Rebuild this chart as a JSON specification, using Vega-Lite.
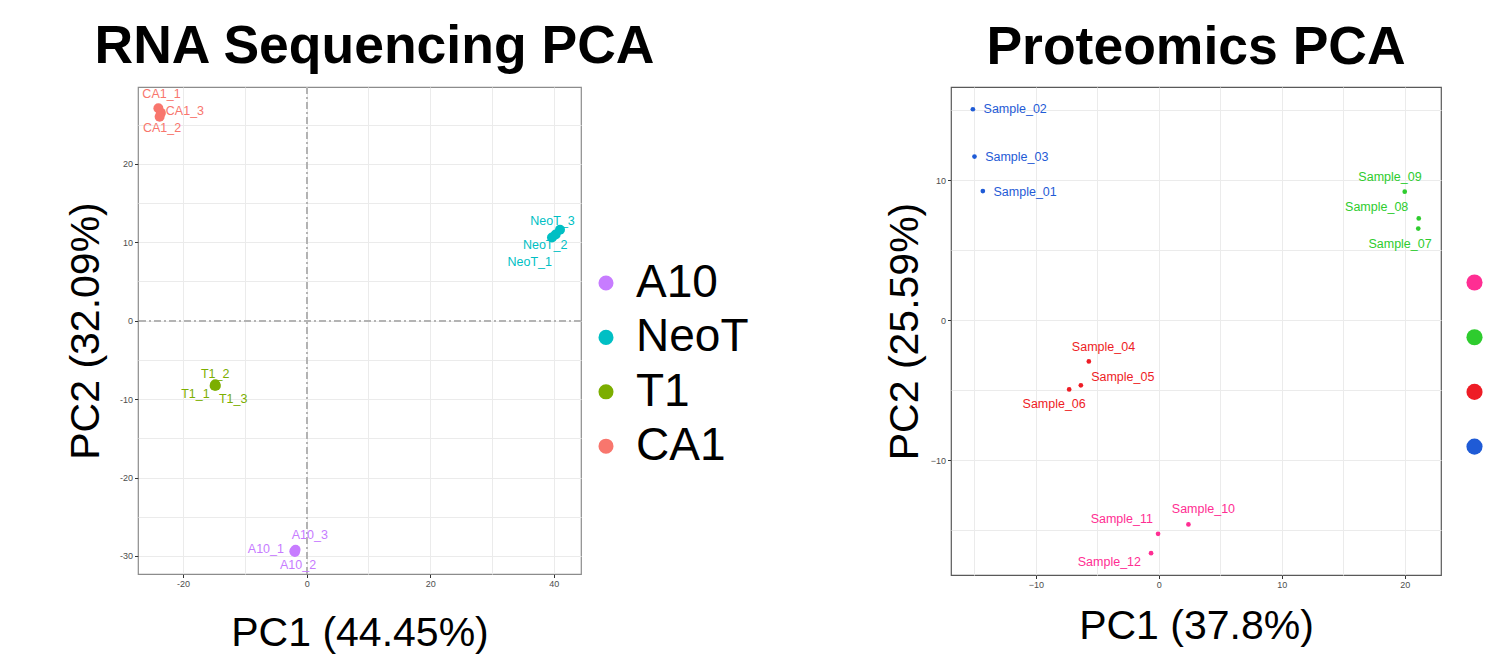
{
  "$schema": "https://vega.github.io/schema/vega-lite/v6.json",
  "padding": {"left": 64, "top": 19, "right": 0, "bottom": 0},
  "background": "white",
  "datasets": {
    "rna": [
      {"sample": "CA1_1", "group": "CA1", "pc1": -24.0, "pc2": 27.1, "lx": -23.5, "ly": 28.9},
      {"sample": "CA1_3", "group": "CA1", "pc1": -23.6, "pc2": 26.5, "lx": -19.7, "ly": 26.7},
      {"sample": "CA1_2", "group": "CA1", "pc1": -23.8, "pc2": 26.0, "lx": -23.4, "ly": 24.6},
      {"sample": "NeoT_1", "group": "NeoT", "pc1": 39.7, "pc2": 10.6, "lx": 36.1, "ly": 7.5},
      {"sample": "NeoT_2", "group": "NeoT", "pc1": 40.3, "pc2": 11.0, "lx": 38.6, "ly": 9.6},
      {"sample": "NeoT_3", "group": "NeoT", "pc1": 41.0, "pc2": 11.6, "lx": 39.8, "ly": 12.7},
      {"sample": "T1_1", "group": "T1", "pc1": -14.9, "pc2": -8.3, "lx": -18.0, "ly": -9.4},
      {"sample": "T1_2", "group": "T1", "pc1": -14.8, "pc2": -8.1, "lx": -14.8, "ly": -6.8},
      {"sample": "T1_3", "group": "T1", "pc1": -14.7, "pc2": -8.3, "lx": -11.9, "ly": -10.0},
      {"sample": "A10_1", "group": "A10", "pc1": -2.0, "pc2": -29.4, "lx": -6.6, "ly": -29.1},
      {"sample": "A10_2", "group": "A10", "pc1": -1.9, "pc2": -29.5, "lx": -1.4, "ly": -31.2},
      {"sample": "A10_3", "group": "A10", "pc1": -1.8, "pc2": -29.2, "lx": 0.5, "ly": -27.3}
    ],
    "prot": [
      {"sample": "Sample_01", "group": "Group 1", "pc1": -14.31, "pc2": 9.21, "lx": -10.87, "ly": 9.17},
      {"sample": "Sample_02", "group": "Group 1", "pc1": -15.12, "pc2": 15.05, "lx": -11.68, "ly": 15.05},
      {"sample": "Sample_03", "group": "Group 1", "pc1": -14.99, "pc2": 11.67, "lx": -11.55, "ly": 11.67},
      {"sample": "Sample_04", "group": "Group 2", "pc1": -5.69, "pc2": -2.95, "lx": -4.5, "ly": -1.9},
      {"sample": "Sample_05", "group": "Group 2", "pc1": -6.34, "pc2": -4.66, "lx": -2.93, "ly": -4.07},
      {"sample": "Sample_06", "group": "Group 2", "pc1": -7.29, "pc2": -4.95, "lx": -8.51, "ly": -6.02},
      {"sample": "Sample_07", "group": "Group 3", "pc1": 21.1, "pc2": 6.53, "lx": 19.62, "ly": 5.45},
      {"sample": "Sample_08", "group": "Group 3", "pc1": 21.14, "pc2": 7.26, "lx": 17.72, "ly": 8.1},
      {"sample": "Sample_09", "group": "Group 3", "pc1": 20.0, "pc2": 9.17, "lx": 18.8, "ly": 10.24},
      {"sample": "Sample_10", "group": "Group 4", "pc1": 2.41, "pc2": -14.59, "lx": 3.63, "ly": -13.52},
      {"sample": "Sample_11", "group": "Group 4", "pc1": -0.06, "pc2": -15.26, "lx": -3.01, "ly": -14.19},
      {"sample": "Sample_12", "group": "Group 4", "pc1": -0.63, "pc2": -16.64, "lx": -4.02, "ly": -17.29}
    ]
  },
  "config": {
    "font": "Liberation Sans",
    "axis": {
      "gridColor": "#EBEBEB",
      "domain": false,
      "tickColor": "#333333",
      "tickSize": 3.5,
      "labelFontSize": 9,
      "labelColor": "#4D4D4D",
      "labelPadding": 2,
      "titleFontSize": 41,
      "titleFontWeight": "normal",
      "titleColor": "black",
      "titleFont": "Liberation Sans"
    },
    "title": {"font": "Liberation Sans", "fontSize": 53.5, "fontWeight": "bold", "color": "black", "anchor": "middle", "frame": "group"}
  },
  "align": "none",
  "spacing": 133,
  "resolve": {"scale": {"color": "independent"}, "legend": {"color": "independent"}},
  "hconcat": [
    {
      "title": {"text": "RNA Sequencing PCA", "dx": 15, "offset": 12},
      "width": 443,
      "height": 487,
      "view": {"stroke": "#8C8C8C", "strokeWidth": 1.2},
      "data": {"name": "rna"},
      "encoding": {
        "x": {
          "field": "pc1", "type": "quantitative",
          "scale": {"domain": [-27.3, 44.4], "nice": false, "zero": false},
          "axis": {
            "title": "PC1 (44.45%)",
            "values": [-20, -10, 0, 10, 20, 30, 40],
            "labelExpr": "datum.value % 20 === 0 ? toString(datum.value) : ''",
            "tickOpacity": {"condition": {"test": "datum.value % 20 === 0", "value": 1}, "value": 0},
            "titlePadding": 25
          }
        },
        "y": {
          "field": "pc2", "type": "quantitative",
          "scale": {"domain": [-32.3, 29.8], "nice": false, "zero": false},
          "axis": {
            "title": "PC2 (32.09%)",
            "values": [-30, -25, -20, -15, -10, -5, 0, 5, 10, 15, 20, 25],
            "labelExpr": "datum.value % 10 === 0 ? toString(datum.value) : ''",
            "tickOpacity": {"condition": {"test": "datum.value % 10 === 0", "value": 1}, "value": 0},
            "titlePadding": 12
          }
        }
      },
      "layer": [
        {"mark": {"type": "rule", "color": "#B3B3B3", "strokeWidth": 1.2, "strokeDash": [7, 3, 2, 3]}, "encoding": {"x": {"datum": 0}, "y": null}},
        {"mark": {"type": "rule", "color": "#B3B3B3", "strokeWidth": 1.2, "strokeDash": [7, 3, 2, 3]}, "encoding": {"y": {"datum": 0}, "x": null}},
        {
          "mark": {"type": "point", "filled": true, "opacity": 1, "size": 100, "shape": "circle"},
          "encoding": {
            "color": {
              "field": "group", "type": "nominal",
              "scale": {"domain": ["A10", "NeoT", "T1", "CA1"], "range": ["#C77CFF", "#00BFC4", "#7CAE00", "#F8766D"]},
              "legend": {
                "title": null, "orient": "none", "legendX": 445, "legendY": 173,
                "symbolType": "circle", "symbolSize": 227, "symbolStrokeWidth": 0,
                "labelFontSize": 46, "labelColor": "black", "labelFont": "Liberation Sans",
                "labelOffset": 7, "rowPadding": 8.4
              }
            }
          }
        },
        {
          "mark": {"type": "text", "fontSize": 12.5, "align": "center", "baseline": "middle"},
          "encoding": {
            "x": {"field": "lx", "type": "quantitative"},
            "y": {"field": "ly", "type": "quantitative"},
            "text": {"field": "sample"},
            "color": {"field": "group", "type": "nominal", "legend": null}
          }
        }
      ]
    },
    {
      "title": {"text": "Proteomics PCA", "offset": 12},
      "width": 490,
      "height": 488,
      "view": {"stroke": "#595959", "strokeWidth": 1.2},
      "data": {"name": "prot"},
      "encoding": {
        "x": {
          "field": "pc1", "type": "quantitative",
          "scale": {"domain": [-16.9, 22.95], "nice": false, "zero": false},
          "axis": {
            "title": "PC1 (37.8%)",
            "values": [-15, -10, -5, 0, 5, 10, 15, 20],
            "labelExpr": "datum.value % 10 === 0 ? datum.label : ''",
            "tickOpacity": {"condition": {"test": "datum.value % 10 === 0", "value": 1}, "value": 0},
            "titlePadding": 17
          }
        },
        "y": {
          "field": "pc2", "type": "quantitative",
          "scale": {"domain": [-18.2, 16.64], "nice": false, "zero": false},
          "axis": {
            "title": "PC2 (25.59%)",
            "values": [-15, -10, -5, 0, 5, 10, 15],
            "labelExpr": "datum.value % 10 === 0 ? datum.label : ''",
            "tickOpacity": {"condition": {"test": "datum.value % 10 === 0", "value": 1}, "value": 0},
            "titlePadding": 4
          }
        }
      },
      "layer": [
        {
          "mark": {"type": "point", "filled": true, "opacity": 1, "size": 22, "shape": "circle"},
          "encoding": {
            "color": {
              "field": "group", "type": "nominal",
              "scale": {"domain": ["Group 4", "Group 3", "Group 2", "Group 1"], "range": ["#FF2E93", "#2ECC2E", "#EE1C25", "#1F5BD6"]},
              "legend": {
                "title": null, "orient": "none", "legendX": 515, "legendY": 187,
                "symbolType": "circle", "symbolSize": 260, "symbolStrokeWidth": 0,
                "labelExpr": "''", "labelFontSize": 1, "rowPadding": 37.7
              }
            }
          }
        },
        {
          "mark": {"type": "text", "fontSize": 12.5, "align": "center", "baseline": "middle"},
          "encoding": {
            "x": {"field": "lx", "type": "quantitative"},
            "y": {"field": "ly", "type": "quantitative"},
            "text": {"field": "sample"},
            "color": {"field": "group", "type": "nominal", "legend": null}
          }
        }
      ]
    }
  ]
}
